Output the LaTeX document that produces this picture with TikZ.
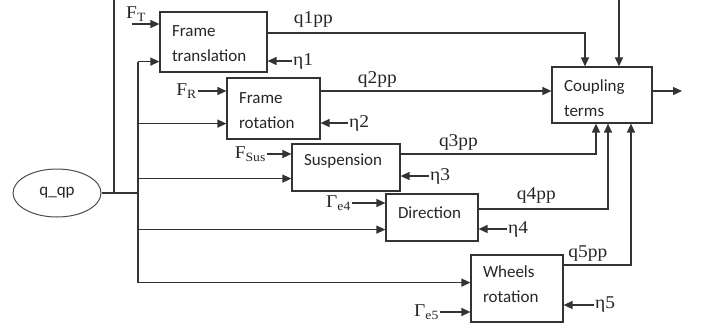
\documentclass[tikz,border=0pt]{standalone}
\usepackage{fontspec}
\usepackage{tikz}
\usetikzlibrary{shapes.geometric, arrows.meta, positioning}
\newfontfamily\boxfont{Carlito}
\newfontfamily\sigfont[FakeStretch=1.08]{Liberation Serif}
\tikzset{
	block/.style={
		rectangle, 
		draw=black!80, 
		line width=1.2pt, 
		align=left, 
		inner xsep=12pt, 
		inner ysep=0pt, 
		text=black!85,
		font=\boxfont\fontsize{17}{25}\selectfont
	},
	state/.style={
		ellipse, 
		draw=black!70, 
		line width=1pt, 
		minimum width=88pt, 
		minimum height=48pt, 
		inner sep=0pt, 
		text=black!85,
		font=\boxfont\fontsize{17}{25}\selectfont
	},
	sig/.style={
		inner sep=1pt, 
		text=black!85,
		font=\sigfont\fontsize{18}{20}\selectfont
	},
	wire/.style={line width=1.3pt, draw=black!80},
	arrow/.style={wire, ->, >={Triangle[length=9pt,width=8pt]}}
}

\begin{document}
\begin{tikzpicture}[x=1pt, y=-1pt]
	\useasboundingbox (0,0) rectangle (702,325);
	\node (frt) [block, text width=83pt, minimum height=60pt, text height=15pt] at (213.5,42) {Frame\\translation};
	\node (frr) [block, text width=69pt, minimum height=61pt, text height=15pt] at (273.5,108.5) {Frame\\rotation};
	\node (sus) [block, text width=84pt, minimum height=47pt, text depth=15pt] at (346,167.5) {Suspension};
	\node (dir) [block, text width=68pt, minimum height=47pt, text depth=9pt] at (432,217.5) {Direction};
	\node (whr) [block, text width=68pt, minimum height=67pt, text depth=33pt] at (517,288.5) {Wheels\\rotation};
	\node (cpl) [block, text width=76pt, minimum height=56pt, text height=18.5pt] at (602,95) {Coupling\\terms};
	\node (qqp) [state] at (57,193) {q\_qp};
	
	\coordinate (split) at (138,193);
	\coordinate (tap) at (114,193);
	\coordinate (over) at (114,-20);
	\coordinate (out) at (682,91);
	\coordinate (ftin) at (132,24);
	
	% entry points of the state bus
	\coordinate (in1) at ([yshift=11pt]frt.south west);
	\coordinate (in2) at ([yshift=16pt]frr.south west);
	\coordinate (in3) at ([yshift=13pt]sus.south west);
	\coordinate (in4) at ([yshift=12pt]dir.south west);
	\coordinate (in5) at ([yshift=40pt]whr.south west);
	
	% external inputs
	\node (ft) [sig] at (136,14) {F\textsubscript{T}};
	\node (fr) [sig, anchor=east] at (198,91) {F\textsubscript{R}};
	\node (fsus) [sig, anchor=east] at (267,154) {F\textsubscript{Sus}};
	\node (ge4) [sig, anchor=east] at (352,203) {Γ\textsubscript{e4}};
	\node (ge5) [sig, anchor=east] at (440,312) {Γ\textsubscript{e5}};
	\node (eta1) [sig, anchor=west] at (292,61) {η1};
	\node (eta2) [sig, anchor=west] at (348,123) {η2};
	\node (eta3) [sig, anchor=west] at (429,176) {η3};
	\node (eta4) [sig, anchor=west] at (507,229) {η4};
	\node (eta5) [sig, anchor=west] at (594,305) {η5};
	
	\draw [arrow] (ftin) -- (ftin -| frt.west);
	\draw [arrow] (fr.east) -- (fr.east -| frr.west);
	\draw [arrow] (fsus.east) -- (fsus.east -| sus.west);
	\draw [arrow] (ge4.east) -- (ge4.east -| dir.west);
	\draw [arrow] (ge5.east) -- (ge5.east -| whr.west);
	\draw [arrow] (eta1.west) -- (eta1.west -| frt.east);
	\draw [arrow] (eta2.west) -- (eta2.west -| frr.east);
	\draw [arrow] (eta3.west) -- (eta3.west -| sus.east);
	\draw [arrow] (eta4.west) -- (eta4.west -| dir.east);
	\draw [arrow] (eta5.west) -- (eta5.west -| whr.east);
	
	% state bus
	\draw [wire] (qqp) -- (split);
	\draw [arrow] (tap) -- (over) -| ([xshift=17pt]cpl.north);
	\draw [wire] (in1 -| split) -- (in5 -| split);
	\draw [arrow] (in1 -| split) -- (in1);
	\draw [arrow] (in2 -| split) -- (in2);
	\draw [arrow] (in3 -| split) -- (in3);
	\draw [arrow] (in4 -| split) -- (in4);
	\draw [arrow] (in5 -| split) -- (in5);
	
	% accelerations to coupling
	\draw [arrow] ([yshift=9pt]frt.east) -| node[sig, pos=0.072, above, yshift=4pt] {q1pp} ([xshift=-17pt]cpl.north);
	\draw [arrow] ([yshift=17.5pt]frr.east) -- node[sig, pos=0.246, above, yshift=2pt] {q2pp} ([yshift=17.5pt]frr.east -| cpl.west);
	\draw [arrow] ([yshift=13.5pt]sus.east) -| node[sig, pos=0.148, above, yshift=2pt] {q3pp} ([xshift=-6pt]cpl.south);
	\draw [arrow] ([yshift=8.5pt]dir.east) -| node[sig, pos=0.223, above, yshift=4pt] {q4pp} ([xshift=6pt]cpl.south);
	\draw [arrow] ([yshift=23.5pt]whr.east) -| node[sig, pos=0.18, above, yshift=2pt] {q5pp} ([xshift=29pt]cpl.south);
	\draw [arrow] ([yshift=4pt]cpl.east) -- (out);
\end{tikzpicture}
\end{document}
